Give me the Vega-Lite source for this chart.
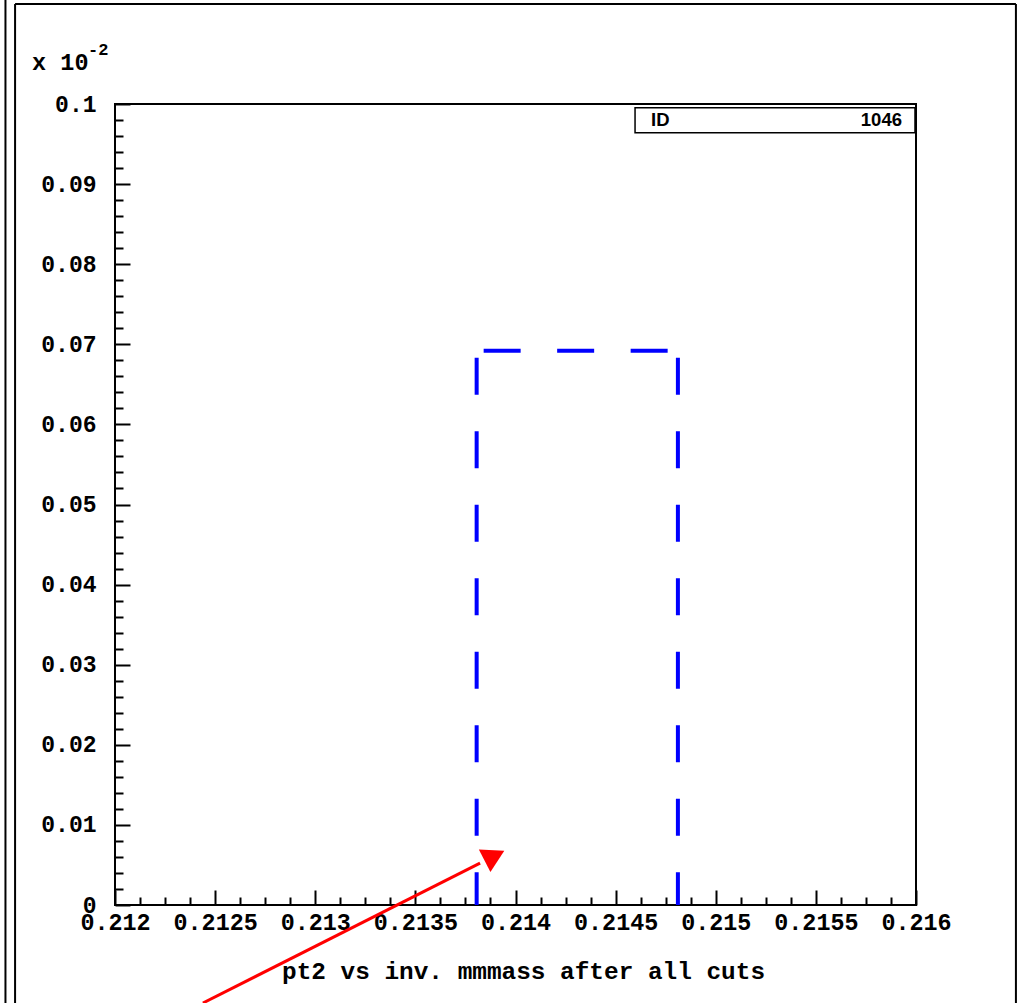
{
  "$schema": "https://vega.github.io/schema/vega-lite/v6.json",
  "width": 801,
  "height": 801,
  "autosize": {"type": "none"},
  "padding": {"left": 115, "top": 104, "right": 103, "bottom": 98},
  "background": "white",
  "config": {
    "view": {"stroke": "black", "strokeWidth": 2},
    "axis": {"grid": false, "domain": false}
  },
  "datasets": {
    "hist": [
      {"bin_start": 0.213806, "bin_end": 0.214811, "value": 0.0692}
    ],
    "frame": [
      {"x": 0.211453, "x2": 0.211453, "y": 0.11298, "y2": -0.012235},
      {"x": 0.211501, "x2": 0.211501, "y": 0.11248, "y2": -0.012235},
      {"x": 0.211501, "x2": 0.216499, "y": 0.11248, "y2": 0.11248},
      {"x": 0.216499, "x2": 0.216499, "y": 0.11248, "y2": -0.012235}
    ],
    "arrow": [
      {"x": 0.212439, "y": -0.012235, "x2": 0.213823, "y2": 0.005219, "hx": 0.213895, "hy": 0.006150}
    ],
    "idbox": [
      {"x": 0.214597, "x2": 0.215995, "y": 0.09954, "y2": 0.09642, "lx": 0.214677, "rx": 0.21593, "ty": 0.097254, "label": "ID", "value": "1046"}
    ],
    "exp": [
      {"x": 0.211586, "y": 0.104245, "t": "x 10", "x2": 0.211865, "y2": 0.106117, "t2": "-2"}
    ]
  },
  "layer": [
    {
      "data": {"name": "frame"},
      "mark": {"type": "rule", "clip": false, "color": "black", "strokeWidth": 2},
      "encoding": {
        "x": {"field": "x", "type": "quantitative", "scale": {"domain": [0.212, 0.216], "nice": false, "zero": false},
          "axis": {
            "title": "pt2 vs inv. mmmass after all cuts",
            "titleFont": "Liberation Mono", "titleFontWeight": "bold", "titleFontSize": 24.4, "titleColor": "black",
            "titleX": 408, "titleY": 73, "titleAlign": "center", "titleBaseline": "alphabetic", "titleAnchor": null,
            "tickCount": 200,
            "values": [0.212, 0.212125, 0.21225, 0.212375, 0.2125, 0.212625, 0.21275, 0.212875, 0.213, 0.213125, 0.21325, 0.213375, 0.2135, 0.213625, 0.21375, 0.213875, 0.214, 0.214125, 0.21425, 0.214375, 0.2145, 0.214625, 0.21475, 0.214875, 0.215, 0.215125, 0.21525, 0.215375, 0.2155, 0.215625, 0.21575, 0.215875, 0.216],
            "labelExpr": "abs(datum.value*2000 - round(datum.value*2000)) < 0.01 ? format(datum.value, '.4~f') : ''",
            "labelFont": "Liberation Mono", "labelFontWeight": "bold", "labelFontSize": 23.4, "labelColor": "black",
            "labelPadding": 21, "labelOverlap": false, "labelFlush": false, "labelBaseline": "top",
            "tickColor": "black", "tickWidth": 2,
            "tickSize": {"condition": {"test": "abs(datum.value*2000 - round(datum.value*2000)) < 0.01", "value": -15}, "value": -8}
          }
        },
        "x2": {"field": "x2"},
        "y": {"field": "y", "type": "quantitative", "scale": {"domain": [0, 0.1], "nice": false, "zero": false},
          "axis": {
            "title": null,
            "tickCount": 200,
            "values": [0, 0.002, 0.004, 0.006, 0.008, 0.01, 0.012, 0.014, 0.016, 0.018, 0.02, 0.022, 0.024, 0.026, 0.028, 0.03, 0.032, 0.034, 0.036, 0.038, 0.04, 0.042, 0.044, 0.046, 0.048, 0.05, 0.052, 0.054, 0.056, 0.058, 0.06, 0.062, 0.064, 0.066, 0.068, 0.07, 0.072, 0.074, 0.076, 0.078, 0.08, 0.082, 0.084, 0.086, 0.088, 0.09, 0.092, 0.094, 0.096, 0.098, 0.1],
            "labelExpr": "abs(datum.value*100 - round(datum.value*100)) < 0.01 ? format(datum.value, '.2~f') : ''",
            "labelFont": "Liberation Mono", "labelFontWeight": "bold", "labelFontSize": 23, "labelColor": "black",
            "labelPadding": 34, "labelOverlap": false, "labelFlush": false, "labelBaseline": "middle", "labelAlign": "right",
            "tickColor": "black", "tickWidth": 2,
            "tickSize": {"condition": {"test": "abs(datum.value*100 - round(datum.value*100)) < 0.01", "value": -15}, "value": -8}
          }
        },
        "y2": {"field": "y2"}
      }
    },
    {
      "data": {"name": "hist"},
      "mark": {"type": "rule", "clip": false, "color": "#0000ff", "strokeWidth": 4, "strokeDash": [37, 36.5], "strokeDashOffset": 66.5},
      "encoding": {
        "x": {"field": "bin_start", "type": "quantitative"},
        "y": {"field": "value", "type": "quantitative"},
        "y2": {"datum": 0}
      }
    },
    {
      "data": {"name": "hist"},
      "mark": {"type": "rule", "clip": false, "color": "#0000ff", "strokeWidth": 4, "strokeDash": [37, 36.5], "strokeDashOffset": 66.5},
      "encoding": {
        "x": {"field": "bin_start", "type": "quantitative"},
        "x2": {"field": "bin_end"},
        "y": {"field": "value", "type": "quantitative"}
      }
    },
    {
      "data": {"name": "hist"},
      "mark": {"type": "rule", "clip": false, "color": "#0000ff", "strokeWidth": 4, "strokeDash": [37, 36.5], "strokeDashOffset": 66.5},
      "encoding": {
        "x": {"field": "bin_end", "type": "quantitative"},
        "y": {"field": "value", "type": "quantitative"},
        "y2": {"datum": 0}
      }
    },
    {
      "data": {"name": "arrow"},
      "mark": {"type": "rule", "clip": false, "color": "#ff0000", "strokeWidth": 3},
      "encoding": {
        "x": {"field": "x", "type": "quantitative"},
        "y": {"field": "y", "type": "quantitative"},
        "x2": {"field": "x2"},
        "y2": {"field": "y2"}
      }
    },
    {
      "data": {"name": "arrow"},
      "mark": {"type": "point", "clip": false, "shape": "triangle-up", "filled": true, "color": "#ff0000", "opacity": 1, "size": 650, "angle": 63, "strokeWidth": 0},
      "encoding": {
        "x": {"field": "hx", "type": "quantitative"},
        "y": {"field": "hy", "type": "quantitative"}
      }
    },
    {
      "data": {"name": "idbox"},
      "mark": {"type": "rect", "clip": false, "fill": "white", "stroke": "black", "strokeWidth": 1.5},
      "encoding": {
        "x": {"field": "x", "type": "quantitative"},
        "x2": {"field": "x2"},
        "y": {"field": "y", "type": "quantitative"},
        "y2": {"field": "y2"}
      }
    },
    {
      "data": {"name": "idbox"},
      "mark": {"type": "text", "clip": false, "font": "Liberation Sans", "fontWeight": "bold", "fontSize": 18.5, "align": "left", "baseline": "alphabetic", "color": "black"},
      "encoding": {
        "x": {"field": "lx", "type": "quantitative"},
        "y": {"field": "ty", "type": "quantitative"},
        "text": {"field": "label"}
      }
    },
    {
      "data": {"name": "idbox"},
      "mark": {"type": "text", "clip": false, "font": "Liberation Sans", "fontWeight": "bold", "fontSize": 18.5, "align": "right", "baseline": "alphabetic", "color": "black"},
      "encoding": {
        "x": {"field": "rx", "type": "quantitative"},
        "y": {"field": "ty", "type": "quantitative"},
        "text": {"field": "value"}
      }
    },
    {
      "data": {"name": "exp"},
      "mark": {"type": "text", "clip": false, "font": "Liberation Mono", "fontWeight": "bold", "fontSize": 23.5, "align": "left", "baseline": "alphabetic", "color": "black"},
      "encoding": {
        "x": {"field": "x", "type": "quantitative"},
        "y": {"field": "y", "type": "quantitative"},
        "text": {"field": "t"}
      }
    },
    {
      "data": {"name": "exp"},
      "mark": {"type": "text", "clip": false, "font": "Liberation Mono", "fontWeight": "bold", "fontSize": 17, "align": "left", "baseline": "alphabetic", "color": "black"},
      "encoding": {
        "x": {"field": "x2", "type": "quantitative"},
        "y": {"field": "y2", "type": "quantitative"},
        "text": {"field": "t2"}
      }
    }
  ]
}
